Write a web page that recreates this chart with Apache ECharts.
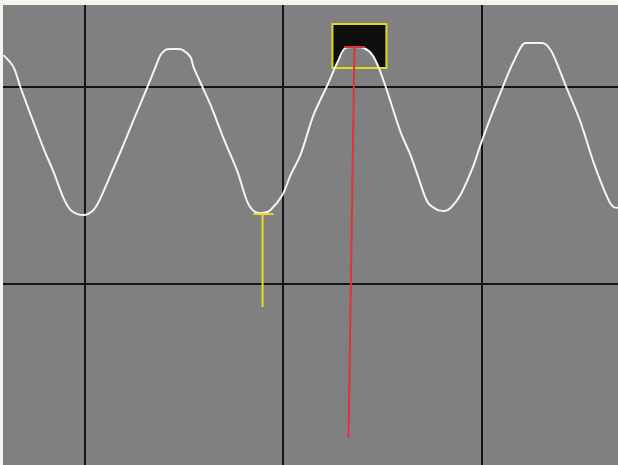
<!DOCTYPE html>
<html>
<head>
<meta charset="utf-8">
<script src="https://cdn.jsdelivr.net/npm/echarts@6/dist/echarts.min.js"></script>
<style>
html,body{margin:0;padding:0;background:#f7f4ee;width:618px;height:465px;overflow:hidden;}
#screen{position:absolute;left:3px;top:5px;width:615px;height:460px;background:#808080;overflow:hidden;}
#chart{position:absolute;left:-117px;top:-115px;width:794px;height:591px;}
</style>
</head>
<body>
<div id="screen"><div id="chart"></div></div>
<script>
// Screen units: divisions (x: 0..4, y: 0..3)
const wave = [
[0.592,2.162],[0.642,2.102],[0.677,2.000],[0.743,1.822],[0.793,1.690],[0.844,1.569],[0.894,1.437],[0.929,1.376],[0.965,1.355],[0.995,1.350],
[1.045,1.376],[1.081,1.437],[1.131,1.553],[1.181,1.670],[1.247,1.832],[1.317,2.000],[1.358,2.102],[1.383,2.162],[1.408,2.188],[1.433,2.193],
[1.468,2.193],[1.494,2.188],[1.534,2.152],[1.549,2.102],[1.594,2.000],[1.635,1.909],[1.700,1.741],[1.771,1.569],[1.821,1.416],[1.861,1.365],
[1.897,1.360],[1.937,1.376],[1.997,1.452],[2.038,1.553],[2.088,1.655],[2.154,1.858],[2.224,2.010],[2.275,2.127],[2.315,2.198],[2.360,2.203],
[2.406,2.198],[2.451,2.162],[2.491,2.076],[2.526,1.975],[2.592,1.772],[2.642,1.655],[2.678,1.553],[2.728,1.416],[2.778,1.376],[2.814,1.371],
[2.844,1.386],[2.894,1.452],[2.955,1.589],[2.995,1.706],[3.045,1.843],[3.111,2.010],[3.161,2.127],[3.222,2.223],[3.262,2.223],[3.307,2.223],
[3.348,2.188],[3.383,2.112],[3.423,2.010],[3.499,1.822],[3.564,1.619],[3.635,1.437],[3.665,1.391],[3.700,1.386]
];
const redCursor = [[2.360,2.203],[2.330,0.218]];
const redCap = [[2.310,2.203],[2.411,2.203]];
const yellowCursor = [[1.897,1.355],[1.897,0.883]];
const yellowCap = [[1.851,1.355],[1.952,1.355]];
const zoomBox = [2.249,2.320,2.521,2.096]; // x0, yTop, x1, yBottom

const chart = echarts.init(document.getElementById('chart'));

function curveYAt(px, pts){
  for (let i=0;i<pts.length-1;i++){
    const a=pts[i], b=pts[i+1];
    if (px>=a[0] && px<=b[0]){
      const t=(px-a[0])/((b[0]-a[0])||1);
      return a[1]+t*(b[1]-a[1]);
    }
  }
  return Infinity;
}

const option = {
  animation:false,
  grid:{left:0,right:0,top:0,bottom:0,show:false},
  xAxis:{type:'value',min:0,max:4,interval:1,axisLine:{show:false},axisTick:{show:false},axisLabel:{show:false},
    splitLine:{show:true,lineStyle:{color:'#141414',width:2}}},
  yAxis:{type:'value',min:0,max:3,interval:1,axisLine:{show:false},axisTick:{show:false},axisLabel:{show:false},
    splitLine:{show:true,lineStyle:{color:'#141414',width:2}}},
  series:[
    {type:'custom',z:1,silent:true,data:[zoomBox],
      renderItem:function(params, api){
        const tl=api.coord([api.value(0),api.value(1)]);
        const br=api.coord([api.value(2),api.value(3)]);
        const pts=wave.map(p=>api.coord(p));
        const poly=[[tl[0],tl[1]],[br[0],tl[1]]];
        for (let x=br[0]; x>=tl[0]; x-=1){
          const cy=curveYAt(x,pts);
          poly.push([x, Math.min(cy, br[1])]);
        }
        poly.push([tl[0], Math.min(curveYAt(tl[0],pts), br[1])]);
        return {type:'group',children:[
          {type:'polygon',shape:{points:poly},style:{fill:'#0e0e0e'}},
          {type:'rect',shape:{x:tl[0],y:tl[1],width:br[0]-tl[0],height:br[1]-tl[1]},style:{fill:null,stroke:'#e2d81c',lineWidth:2}}
        ]};
      }
    },
    {type:'line',z:3,data:wave,showSymbol:false,smooth:0.3,lineStyle:{color:'#f4f4f4',width:2}},
    {type:'line',z:4,data:redCursor,showSymbol:false,lineStyle:{color:'#e0333a',width:2}},
    {type:'line',z:4,data:redCap,showSymbol:false,lineStyle:{color:'#e0333a',width:2}},
    {type:'line',z:4,data:yellowCursor,showSymbol:false,lineStyle:{color:'#e6dc22',width:2}},
    {type:'line',z:4,data:yellowCap,showSymbol:false,lineStyle:{color:'#e6dc22',width:2}}
  ]
};
chart.setOption(option);
</script>
</body>
</html>
